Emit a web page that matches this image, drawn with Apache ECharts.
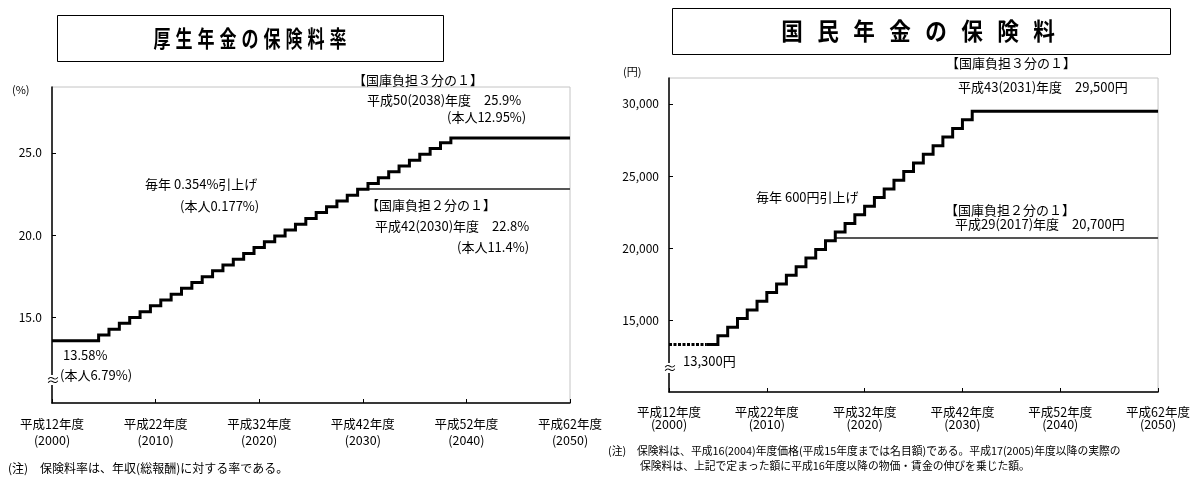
<!DOCTYPE html>
<html>
<head>
<meta charset="utf-8">
<script src="https://cdn.jsdelivr.net/npm/echarts@6/dist/echarts.min.js"></script>
<style>
  html, body { margin: 0; padding: 0; background: #fff; }
  #main { width: 1193px; height: 477px; }
</style>
</head>
<body>
<div id="main"></div>
<script>
// x axis ticks (fiscal years)
const tickYears = [2000, 2010, 2020, 2030, 2040, 2050]
const heiseiLabels = ['平成12年度', '平成22年度', '平成32年度', '平成42年度', '平成52年度', '平成62年度']
const yearLabels = ['(2000)', '(2010)', '(2020)', '(2030)', '(2040)', '(2050)']

// 厚生年金 保険料率 (%), step starts each October
const kouseiYears = [2000, 2004.5, 2005.5, 2006.5, 2007.5, 2008.5, 2009.5, 2010.5, 2011.5, 2012.5,
  2013.5, 2014.5, 2015.5, 2016.5, 2017.5, 2018.5, 2019.5, 2020.5, 2021.5, 2022.5,
  2023.5, 2024.5, 2025.5, 2026.5, 2027.5, 2028.5, 2029.5, 2030.5, 2031.5, 2032.5,
  2033.5, 2034.5, 2035.5, 2036.5, 2037.5, 2038.5, 2050]
const kouseiRate = [13.58, 13.934, 14.288, 14.642, 14.996, 15.35, 15.704, 16.058, 16.412, 16.766,
  17.12, 17.474, 17.828, 18.182, 18.536, 18.89, 19.244, 19.598, 19.952, 20.306,
  20.66, 21.014, 21.368, 21.722, 22.076, 22.43, 22.784, 23.138, 23.492, 23.846,
  24.2, 24.554, 24.908, 25.262, 25.616, 25.9, 25.9]
// 国庫負担2分の1
const kouseiHalfYears = [2029.5, 2050]
const kouseiHalfRate = [22.8, 22.8]
const kouseiTicks = [15, 20, 25]

// 国民年金 保険料 (円)
const kokuminDotYears = [2000, 2003.8]
const kokuminDotFee = [13300, 13300]
const kokuminYears = [2003.8, 2005, 2006, 2007, 2008, 2009, 2010, 2011, 2012, 2013,
  2014, 2015, 2016, 2017, 2018, 2019, 2020, 2021, 2022, 2023,
  2024, 2025, 2026, 2027, 2028, 2029, 2030, 2031, 2050]
const kokuminFee = [13300, 13900, 14500, 15100, 15700, 16300, 16900, 17500, 18100, 18700,
  19300, 19900, 20500, 21100, 21700, 22300, 22900, 23500, 24100, 24700,
  25300, 25900, 26500, 27100, 27700, 28300, 28900, 29500, 29500]
// 国庫負担2分の1
const kokuminHalfYears = [2017, 2050]
const kokuminHalfFee = [20700, 20700]
const kokuminTicks = [15000, 20000, 25000, 30000]

const FONT = '"Noto Sans CJK JP", "Noto Sans", sans-serif'

const pairs = (xs, ys) => xs.map((x, i) => [x, ys[i]])

const xAxisBase = (gridIndex, lineHeight, margin) => ({
  gridIndex,
  type: 'value',
  min: 2000,
  max: 2050,
  interval: 10,
  axisLine: { show: true, lineStyle: { color: '#000', width: 1.5 } },
  axisTick: { show: true, inside: true, length: 4, lineStyle: { color: '#000' } },
  splitLine: { show: false },
  axisLabel: {
    color: '#000',
    fontSize: 12.5,
    fontFamily: FONT,
    lineHeight,
    margin,
    showMinLabel: true,
    showMaxLabel: true,
    formatter: (v) => {
      const i = tickYears.indexOf(v)
      return heiseiLabels[i] + '\n' + yearLabels[i]
    },
  },
})

const yAxisBase = (gridIndex, min, max, ticks, fmt) => ({
  gridIndex,
  type: 'value',
  min,
  max,
  axisLine: { show: true, lineStyle: { color: '#000', width: 1.5 } },
  axisTick: { show: true, inside: true, length: 4, customValues: ticks, lineStyle: { color: '#000' } },
  splitLine: { show: false },
  axisLabel: { customValues: ticks, color: '#000', fontSize: 12, fontFamily: FONT, margin: 10, formatter: fmt },
})

const stepLine = (name, data, xi, color, width, z, type) => ({
  name,
  type: 'line',
  step: 'end',
  xAxisIndex: xi,
  yAxisIndex: xi,
  data,
  z,
  showSymbol: false,
  symbol: 'none',
  animation: false,
  lineStyle: { color, width, type: type || 'solid', cap: 'butt', join: 'miter' },
})

// spread title characters across a span
const titleChars = (text, x0, x1, y, size, sx) => {
  const chars = text.split('')
  const step = (x1 - x0) / (chars.length - 1)
  return chars.map((c, i) => ({
    type: 'text',
    x: x0 + i * step,
    y,
    scaleX: sx,
    style: { text: c, fill: '#000', font: 'bold ' + size + 'px ' + FONT, textAlign: 'center', textVerticalAlign: 'middle' },
  }))
}

const note = (text, x, y, size, align) => ({
  type: 'text',
  x,
  y,
  style: { text, fill: '#000', font: (size || 13) + 'px ' + FONT, textAlign: align || 'left', textVerticalAlign: 'middle' },
})

const approx = (x, y) => [
  { type: 'rect', shape: { x: x - 4, y: y - 5, width: 9, height: 10 }, style: { fill: '#fff' }, z: 100 },
  { type: 'text', x, y, z: 101, style: { text: '≈', fill: '#000', font: '14px ' + FONT, textAlign: 'center', textVerticalAlign: 'middle' } },
]

const chart = echarts.init(document.getElementById('main'))
chart.setOption({
  backgroundColor: '#fff',
  animation: false,
  grid: [
    { left: 52, top: 87, width: 518, height: 316, show: true, borderColor: '#c4c4c4', borderWidth: 1 },
    { left: 669, top: 78, width: 494, height: 314, show: true, borderColor: '#c4c4c4', borderWidth: 1 },
  ],
  xAxis: [xAxisBase(0, 16, 13), xAxisBase(1, 12, 14)],
  yAxis: [
    yAxisBase(0, 9.8, 29, kouseiTicks, (v) => v.toFixed(1)),
    yAxisBase(1, 10000, 31800, kokuminTicks, (v) => v.toLocaleString('en-US')),
  ],
  series: [
    stepLine('厚生年金 国庫負担2分の1', pairs(kouseiHalfYears, kouseiHalfRate), 0, '#555', 2, 2),
    stepLine('厚生年金 国庫負担3分の1', pairs(kouseiYears, kouseiRate), 0, '#000', 3, 3),
    stepLine('国民年金 国庫負担2分の1', pairs(kokuminHalfYears, kokuminHalfFee), 1, '#555', 2, 2),
    stepLine('国民年金 平成16年度まで', pairs(kokuminDotYears, kokuminDotFee), 1, '#000', 3, 3, [3, 1.5]),
    stepLine('国民年金 国庫負担3分の1', pairs(kokuminYears, kokuminFee), 1, '#000', 3, 3),
  ],
  graphic: [
    // title boxes
    { type: 'rect', shape: { x: 57.5, y: 15.5, width: 386, height: 46 }, style: { fill: 'none', stroke: '#000', lineWidth: 1 } },
    { type: 'rect', shape: { x: 672.5, y: 8.5, width: 498, height: 46 }, style: { fill: 'none', stroke: '#000', lineWidth: 1 } },
    ...titleChars('厚生年金の保険料率', 162, 338, 38, 23, 0.74),
    ...titleChars('国民年金の保険料', 792, 1044, 31, 24, 0.9),

    // 厚生年金 annotations
    note('(%)', 12, 90, 11),
    note('【国庫負担３分の１】', 353, 80),
    note('平成50(2038)年度　25.9%', 367, 100),
    note('(本人12.95%)', 447, 117),
    note('毎年 0.354%引上げ', 145, 184),
    note('(本人0.177%)', 180, 206),
    note('【国庫負担２分の１】', 366, 205),
    note('平成42(2030)年度　22.8%', 375, 226),
    note('(本人11.4%)', 457, 247),
    note('13.58%', 63, 355),
    note('(本人6.79%)', 60, 375),
    ...approx(53, 380),
    note('(注)　保険料率は、年収(総報酬)に対する率である。', 8, 468, 12),

    // 国民年金 annotations
    note('(円)', 623, 72, 11),
    note('【国庫負担３分の１】', 946, 63),
    note('平成43(2031)年度　29,500円', 958, 87),
    note('毎年 600円引上げ', 756, 197),
    note('【国庫負担２分の１】', 945, 210),
    note('平成29(2017)年度　20,700円', 955, 224),
    note('13,300円', 683, 361),
    ...approx(670, 368),
    note('(注)　保険料は、平成16(2004)年度価格(平成15年度までは名目額)である。平成17(2005)年度以降の実際の', 608, 451, 10.8),
    note('保険料は、上記で定まった額に平成16年度以降の物価・賃金の伸びを乗じた額。', 640, 466, 10.8),
  ],
})
</script>
</body>
</html>
